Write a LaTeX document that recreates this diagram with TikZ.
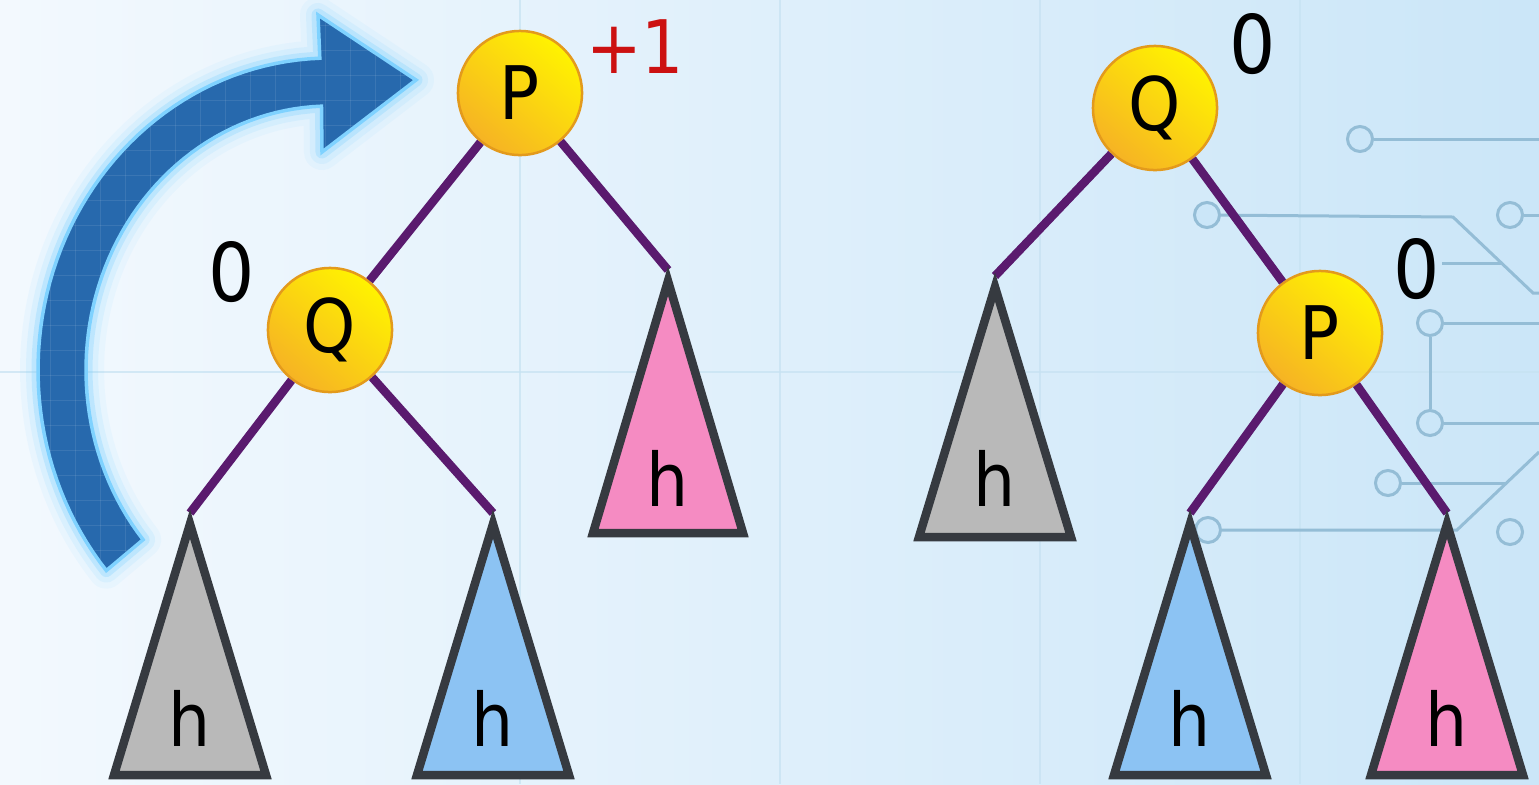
\documentclass[tikz,border=0pt]{standalone}
\usepackage{fontspec}
\setmainfont{DejaVu Sans Condensed}
\definecolor{edgecol}{HTML}{5A1A6E}
\definecolor{ballrim}{HTML}{E39A1C}
\definecolor{ballhi}{HTML}{FFF300}
\definecolor{balllo}{HTML}{F6B324}
\definecolor{tricol}{HTML}{363A40}
\definecolor{grayfill}{HTML}{B9B9B9}
\definecolor{bluefill}{HTML}{8CC3F3}
\definecolor{pinkfill}{HTML}{F58BC2}
\definecolor{labelred}{HTML}{CC1111}
\definecolor{arrowfill}{HTML}{2769AD}
\definecolor{arrowrim}{HTML}{7FD2FF}
\definecolor{circcol}{HTML}{94BDD6}
\definecolor{gridcol}{HTML}{C6E2F2}
\definecolor{bgleft}{HTML}{F3F9FE}
\definecolor{bgright}{HTML}{CBE6F8}
\begin{document}
\begin{tikzpicture}[x=0.01cm,y=0.01cm,
  edge/.style={draw=edgecol, line width=0.085cm},
  ball/.style={circle, minimum size=1.24cm, inner sep=0pt, draw=ballrim, line width=0.025cm,
    top color=ballhi, bottom color=balllo, shading angle=-40, font=\fontsize{21}{21}\selectfont},
  tri/.style={draw=tricol, line width=0.085cm, line join=miter},
  hlab/.style={font=\fontsize{21}{21}\selectfont, inner sep=0pt},
  bal/.style={font=\fontsize{23}{23}\selectfont, inner sep=0pt},
  trace/.style={draw=circcol, line width=0.03cm},
  cpad/.style={circle, draw=circcol, line width=0.03cm, minimum size=0.25cm, inner sep=0pt, fill=bgright},
  gridline/.style={draw=gridcol, line width=0.012cm}
]
\useasboundingbox (0,0) rectangle (1539,-784);
% background
\shade[left color=bgleft, right color=bgright] (0,0) rectangle (1539,-784);
\foreach \gx in {520,780,1040,1300} \draw[gridline, opacity=0.7] (\gx,0) -- (\gx,-784);
\draw[gridline, opacity=0.7] (0,-372) -- (1539,-372);

% circuit traces
\node[cpad] (c1) at (1360,-139) {};
\node[cpad] (c2) at (1207,-215) {};
\node[cpad] (c3) at (1510,-215) {};
\node[cpad] (c4) at (1430,-323) {};
\node[cpad] (c5) at (1430,-423) {};
\node[cpad] (c6) at (1388,-483) {};
\node[cpad] (c7) at (1208,-530) {};
\node[cpad] (c8) at (1510,-532) {};
\coordinate (e1) at (1539,-139);
\coordinate (k2) at (1453,-217);
\coordinate (k2b) at (1533,-293);
\coordinate (e2) at (1539,-293);
\coordinate (e3) at (1539,-215);
\coordinate (s1) at (1442,-263);
\coordinate (s1b) at (1501,-263);
\coordinate (e4) at (1539,-323);
\coordinate (e5) at (1539,-423);
\coordinate (k6) at (1506,-483);
\coordinate (k7) at (1457,-530);
\coordinate (e7) at (1539,-452);
\draw[trace] (c1) -- (e1);
\draw[trace] (c2) -- (k2) -- (k2b) -- (e2);
\draw[trace] (c3) -- (e3);
\draw[trace] (s1) -- (s1b);
\draw[trace] (c4) -- (e4);
\draw[trace] (c4) -- (c5);
\draw[trace] (c5) -- (e5);
\draw[trace] (c6) -- (k6);
\draw[trace] (c7) -- (k7) -- (e7);

% rotation arrow
\path[save path=\arrowp] plot[domain=220:92,samples=60] ({330+292*cos(\x)},{-370+312*sin(\x)})
  -- (318,-15) -- (416,-80) -- (322,-152)
  -- plot[domain=92:220,samples=60] ({330+244*cos(\x)},{-370+264*sin(\x)}) -- cycle;
\draw[use path=\arrowp, draw=arrowrim, line width=0.36cm, opacity=0.08, line join=round];
\draw[use path=\arrowp, draw=arrowrim, line width=0.24cm, opacity=0.14, line join=round];
\draw[use path=\arrowp, draw=arrowrim, line width=0.13cm, opacity=0.30, line join=round];
\fill[use path=\arrowp, arrowfill];
\begin{scope}
  \clip[use path=\arrowp];
  \foreach \gx in {0,25,...,425} \draw[white, opacity=0.09, line width=0.01cm] (\gx,0) -- (\gx,-600);
  \foreach \gy in {0,25,...,600} \draw[white, opacity=0.09, line width=0.01cm] (0,-\gy) -- (425,-\gy);
\end{scope}
\draw[use path=\arrowp, draw=arrowrim, line width=0.035cm, line join=miter];

% left tree
\node[ball] (P1) at (520,-93) {P};
\node[ball] (Q1) at (330,-330) {Q};
\coordinate (A1) at (190,-513);
\coordinate (A2) at (493,-513);
\coordinate (A3) at (668,-270);
\node[text=labelred, font=\fontsize{21}{21}\selectfont, inner sep=0pt] (b1) at (635,-47) {+1};
\node[bal] (b2) at (232,-272) {0};

% right tree
\node[ball] (Q2) at (1155,-108) {Q};
\node[ball] (P2) at (1320,-333) {P};
\coordinate (A4) at (995,-276);
\coordinate (A5) at (1190,-513);
\coordinate (A6) at (1447,-513);
\node[bal] (b3) at (1253,-44) {0};
\node[bal] (b4) at (1417,-269) {0};

% edges
\draw[edge] (P1) -- (Q1);
\draw[edge] (P1) -- (A3);
\draw[edge] (Q1) -- (A1);
\draw[edge] (Q1) -- (A2);
\draw[edge] (Q2) -- (A4);
\draw[edge] (Q2) -- (P2);
\draw[edge] (P2) -- (A5);
\draw[edge] (P2) -- (A6);

% subtrees
\draw[tri, fill=grayfill] (A1) ++(0,-11) -- ++(-76,-251) -- ++(152,0) -- cycle;
\draw[tri, fill=bluefill] (A2) ++(0,-11) -- ++(-76,-251) -- ++(152,0) -- cycle;
\draw[tri, fill=pinkfill] (A3) ++(0,-11) -- ++(-75,-252) -- ++(150,0) -- cycle;
\draw[tri, fill=grayfill] (A4) ++(0,-11) -- ++(-76,-250) -- ++(152,0) -- cycle;
\draw[tri, fill=bluefill] (A5) ++(0,-11) -- ++(-76,-251) -- ++(152,0) -- cycle;
\draw[tri, fill=pinkfill] (A6) ++(0,-11) -- ++(-76,-251) -- ++(152,0) -- cycle;
\path (A1) ++(0,-205) node[hlab] (h1) {h};
\path (A2) ++(0,-205) node[hlab] (h2) {h};
\path (A3) ++(0,-208) node[hlab] (h3) {h};
\path (A4) ++(0,-202) node[hlab] (h4) {h};
\path (A5) ++(0,-205) node[hlab] (h5) {h};
\path (A6) ++(0,-205) node[hlab] (h6) {h};
\end{tikzpicture}
\end{document}
